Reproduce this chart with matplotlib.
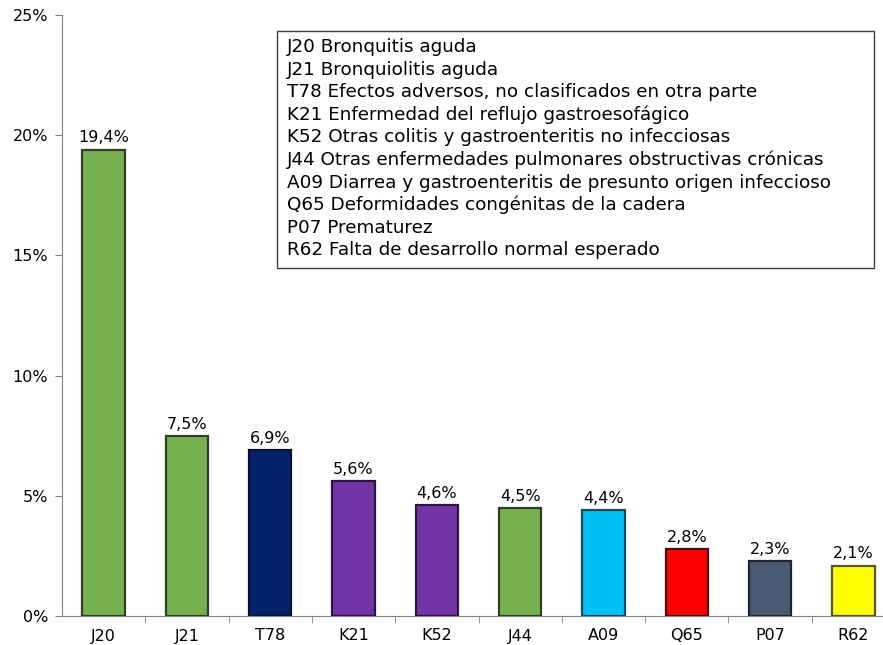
import matplotlib
matplotlib.use("Agg")
import matplotlib.pyplot as plt
from matplotlib.patches import Rectangle

codes = ["J20", "J21", "T78", "K21", "K52", "J44", "A09", "Q65", "P07", "R62"]
values = [19.4, 7.5, 6.9, 5.6, 4.6, 4.5, 4.4, 2.8, 2.3, 2.1]
colors = ["#77B04E", "#77B04E", "#03246A", "#7334A6", "#7334A6", "#77B04E",
          "#00BFF5", "#FF0000", "#4B5A73", "#FFFF00"]
edges = ["#2F3F28", "#2F3F28", "#0A0F2A", "#2A1640", "#2A1640", "#2F3F28",
         "#24485A", "#4A0A0A", "#1E2530", "#55552A"]
descriptions = [
    "J20 Bronquitis aguda",
    "J21 Bronquiolitis aguda",
    "T78 Efectos adversos, no clasificados en otra parte",
    "K21 Enfermedad del reflujo gastroesofágico",
    "K52 Otras colitis y gastroenteritis no infecciosas",
    "J44 Otras enfermedades pulmonares obstructivas crónicas",
    "A09 Diarrea y gastroenteritis de presunto origen infeccioso",
    "Q65 Deformidades congénitas de la cadera",
    "P07 Prematurez",
    "R62 Falta de desarrollo normal esperado",
]
yticks = [0, 5, 10, 15, 20, 25]

W, H = 883, 645
fig = plt.figure(figsize=(W / 100, H / 100), dpi=100)
ax = fig.add_axes([62 / W, (H - 616) / H, (895 - 62) / W, (616 - 15) / H])

x = list(range(len(codes)))
ax.bar(x, values, width=0.51, color=colors, edgecolor=edges, linewidth=1.6, zorder=3)
for xi, v in zip(x, values):
    ax.annotate(f"{v:.1f}%".replace(".", ","), (xi, v), xytext=(0, 3),
                textcoords="offset points", ha="center", va="bottom",
                fontsize=11.5, color="#000000")

ax.set_xlim(-0.5, len(codes) - 0.5)
ax.set_ylim(0, 25)
ax.set_yticks(yticks)
ax.set_yticklabels([f"{t}%" for t in yticks], fontsize=11.5)
ax.set_xticks(x)
ax.set_xticklabels(codes, fontsize=11.5)
ax.tick_params(axis="x", length=0, pad=9)
ax.set_xticks([i + 0.5 for i in x[:-1]], minor=True)
ax.tick_params(axis="x", which="minor", length=5, direction="out", color="#808080")
ax.tick_params(axis="y", length=5, direction="out", color="#808080", pad=5)
for s in ["top", "right"]:
    ax.spines[s].set_visible(False)
ax.spines["left"].set_color("#808080")
ax.spines["bottom"].set_color("#808080")

# description box
x0, y0, x1, y1 = 277, 31, 874, 268
fig.patches.append(Rectangle((x0 / W, 1 - y1 / H), (x1 - x0) / W, (y1 - y0) / H,
                             transform=fig.transFigure, facecolor="white",
                             edgecolor="#404040", linewidth=1.0, zorder=5))
for i, line in enumerate(descriptions):
    yc = 47 + i * 22.6
    fig.text(287 / W, 1 - yc / H, line, fontsize=13.2, va="center", ha="left", zorder=6)

fig.savefig("out.png", dpi=100)
